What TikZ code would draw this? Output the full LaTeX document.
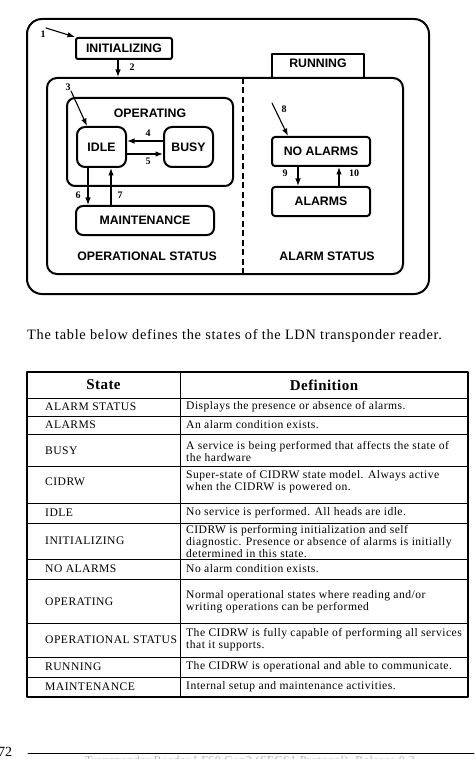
\documentclass[tikz,border=0pt]{standalone}
\usepackage{fontspec}
\setmainfont{Liberation Serif}
\setsansfont{Liberation Sans}
\newfontfamily\introfont[LetterSpace=5]{Liberation Serif}
\newfontfamily\tabfont[LetterSpace=4]{Liberation Serif}
\newfontfamily\headfont[LetterSpace=3]{Liberation Serif}
\usetikzlibrary{arrows.meta}

\begin{document}
\begin{tikzpicture}[x=1pt,y=-1pt,line cap=round,line join=round,>={Latex[length=7.5pt,width=5.5pt]},
  statebox/.style={draw,line width=2pt,rounded corners=#1,inner sep=0pt,
    font=\sffamily\bfseries\fontsize{12.3}{14}\selectfont},
  statelabel/.style={inner sep=0pt,font=\sffamily\bfseries\fontsize{12.3}{14}\selectfont},
  transition/.style={line width=1.1pt,->},
  num/.style={inner sep=0pt,font=\bfseries\fontsize{10}{12}\selectfont},
  tabline/.style={line width=0.8pt},
  cellstate/.style={anchor=west,inner sep=0pt,font=\tabfont\fontsize{11.6}{12}\selectfont},
  celldef/.style={anchor=west,inner sep=0pt,align=left,font=\tabfont\fontsize{11.6}{12}\selectfont}]
  \useasboundingbox (0,0) rectangle (474,759);

  % state model
  \node[statebox=15pt,minimum width=402pt,minimum height=275pt] (cidrw) at (228,156.5) {};
  \node[statebox=2pt,minimum width=96pt,minimum height=21pt] (init) at (124,48.5) {INITIALIZING};
  \node[statebox=0pt,minimum width=92pt,minimum height=24pt,text depth=6pt] (running) at (318,66) {RUNNING};
  \node[statebox=10pt,fill=white,minimum width=356pt,minimum height=196pt] (opstatus) at (225,176) {};
  \node[statebox=8pt,minimum width=166pt,minimum height=88pt] (operating) at (150,142) {};
  \node[statelabel] (oplabel) at (150,113) {OPERATING};
  \node[statebox=8pt,minimum width=49pt,minimum height=40pt] (idle) at (101.5,147) {IDLE};
  \node[statebox=8pt,minimum width=49pt,minimum height=40pt] (busy) at (188.5,147) {BUSY};
  \node[statebox=7pt,minimum width=138pt,minimum height=29pt] (maint) at (145,220.5) {MAINTENANCE};
  \node[statebox=3pt,minimum width=98pt,minimum height=29pt] (noalarms) at (321,151.5) {NO ALARMS};
  \node[statebox=3pt,minimum width=98pt,minimum height=29pt] (alarms) at (321,201.5) {ALARMS};
  \node[statelabel] (opslabel) at (147,256) {OPERATIONAL STATUS};
  \node[statelabel] (alarmlabel) at (327,256) {ALARM STATUS};

  \coordinate (dtop) at (243,78);
  \coordinate (dbot) at (243,274);
  \draw[line width=1.4pt,dash pattern=on 6pt off 3.5pt,line cap=butt] (dtop) -- (dbot);

  \coordinate (s1) at (46,28);
  \coordinate (s2) at (118,59);
  \coordinate (s3) at (71,91);
  \coordinate (s8) at (272,103);
  \draw[transition] (s1) -- (init.north west);
  \draw[transition] (s2) -- (s2 |- opstatus.north);
  \draw[transition] (s3) -- ([xshift=11pt]idle.north west);
  \draw[transition] ([yshift=6pt]busy.west) -- ([yshift=6pt]idle.east);
  \draw[transition] ([yshift=-7pt]idle.east) -- ([yshift=-7pt]busy.west);
  \draw[transition] ([xshift=-13.5pt]idle.south) -- ([xshift=-13.5pt]idle.south |- maint.north);
  \draw[transition] ([xshift=9.5pt]idle.south |- maint.north) -- ([xshift=9.5pt]idle.south);
  \draw[transition] (s8) -- ([xshift=17pt]noalarms.north west);
  \draw[transition] ([xshift=-23pt]noalarms.south) -- ([xshift=-23pt]noalarms.south |- alarms.north);
  \draw[transition] ([xshift=18pt]noalarms.south |- alarms.north) -- ([xshift=18pt]noalarms.south);

  \node[num] (n1) at (43,34) {1};
  \node[num] (n2) at (132,67) {2};
  \node[num] (n3) at (68,87) {3};
  \node[num] (n4) at (148,133) {4};
  \node[num] (n5) at (148,161) {5};
  \node[num] (n6) at (78,195) {6};
  \node[num] (n7) at (120,195) {7};
  \node[num] (n8) at (284,109) {8};
  \node[num] (n9) at (285,173) {9};
  \node[num] (n10) at (354,173) {10};

  % text and table
  \node[anchor=west,inner sep=0pt,font=\introfont\fontsize{14.3}{16}\selectfont] (intro) at (27,336)
    {The table below defines the states of the LDN transponder reader.};

  \draw[line width=2pt] (27,372) rectangle (468,697);
  \draw[tabline] (180,372) -- (180,697);
  \foreach \yy in {398,416,434,466,503,523,559,579,623,657,677}
    \draw[tabline] (27,\yy) -- (468,\yy);
  \node[inner sep=0pt,font=\headfont\bfseries\fontsize{15}{16}\selectfont] (hstate) at (103.5,385) {State};
  \node[inner sep=0pt,font=\headfont\bfseries\fontsize{15}{16}\selectfont] (hdef) at (324,385) {Definition};
  \foreach \yy/\nm/\st/\df in {
      407/alarmstatus/{ALARM STATUS}/{Displays the presence or absence of alarms.},
      425/alarms/{ALARMS}/{An alarm condition exists.},
      451/busy/{BUSY}/{A service is being performed that affects the state of\\the hardware},
      482/cidrw/{CIDRW}/{Super-state of CIDRW state model. Always active\\when the CIDRW is powered on.},
      513/idle/{IDLE}/{No service is performed. All heads are idle.},
      541/init/{INITIALIZING}/{CIDRW is performing initialization and self\\diagnostic. Presence or absence of alarms is initially\\determined in this state.},
      569/noalarms/{NO ALARMS}/{No alarm condition exists.},
      602/operating/{OPERATING}/{Normal operational states where reading and/or\\writing operations can be performed},
      640/opstatus/{OPERATIONAL STATUS}/{The CIDRW is fully capable of performing all services\\that it supports.},
      667/running/{RUNNING}/{The CIDRW is operational and able to communicate.},
      687/maint/{MAINTENANCE}/{Internal setup and maintenance activities.}}
  {
    \node[cellstate] (st-\nm) at (45,\yy) {\st};
    \node[celldef] (df-\nm) at (186,\yy) {\df};
  }

  % page footer
  \node[anchor=west,inner sep=0pt,font=\fontsize{14}{16}\selectfont] (pageno) at (-2,752) {72};
  \coordinate (rulestart) at (28,753);
  \coordinate (ruleend) at (474,753);
  \draw[line width=0.7pt] (rulestart) -- (ruleend);
  \node[anchor=north,inner sep=0pt,text=gray!60,font=\tabfont\fontsize{12}{14}\selectfont] (footer) at (250,755.5)
    {Transponder Reader LF60 Gen2 (SECS1 Protocol), Release 0.2};
\end{tikzpicture}
\end{document}
